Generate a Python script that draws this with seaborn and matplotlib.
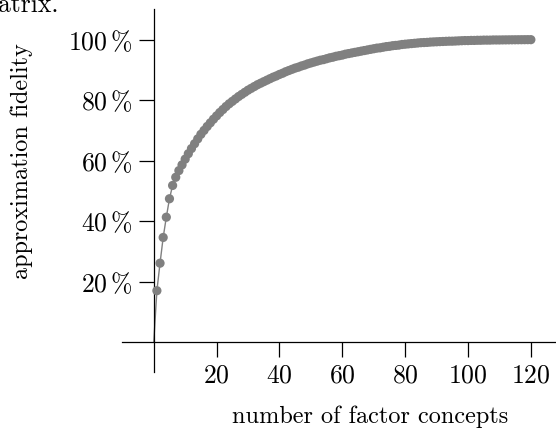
import matplotlib
matplotlib.use("Agg")
import matplotlib.pyplot as plt
import seaborn as sns
import pandas as pd

# number of factor concepts (k) and approximation fidelity (%)
n_concepts = list(range(1, 121))
fidelity = [
    17.0, 26.1, 34.6, 41.3, 47.4, 51.8, 54.5, 56.7, 58.6, 60.5,
    62.3, 64.0, 65.6, 67.2, 68.7, 70.0, 71.3, 72.5, 73.7, 74.8,
    75.9, 76.9, 77.9, 78.8, 79.6, 80.4, 81.2, 81.9, 82.6, 83.3,
    83.9, 84.5, 85.1, 85.6, 86.1, 86.6, 87.1, 87.6, 88.0, 88.5,
    88.9, 89.4, 89.8, 90.2, 90.6, 90.9, 91.3, 91.6, 92.0, 92.3,
    92.6, 92.9, 93.2, 93.4, 93.7, 94.0, 94.2, 94.5, 94.7, 94.9,
    95.2, 95.4, 95.6, 95.8, 96.0, 96.2, 96.4, 96.6, 96.8, 97.0,
    97.2, 97.3, 97.5, 97.7, 97.8, 98.0, 98.1, 98.2, 98.4, 98.5,
    98.6, 98.7, 98.8, 98.9, 99.0, 99.05, 99.1, 99.2, 99.25, 99.3,
    99.35, 99.4, 99.45, 99.5, 99.5, 99.55, 99.6, 99.65, 99.7, 99.7,
    99.75, 99.75, 99.8, 99.8, 99.85, 99.85, 99.85, 99.9, 99.9, 99.9,
    99.92, 99.93, 99.94, 99.95, 99.96, 99.97, 99.98, 99.99, 100.0, 100.0,
]
origin_x = [0]
origin_y = [0.0]

x_ticks = [20, 40, 60, 80, 100, 120]
y_ticks = [20, 40, 60, 80, 100]
y_tick_labels = [r"$%d\,\%%$" % v for v in y_ticks]
x_tick_labels = [r"$%d$" % v for v in x_ticks]

sns.set_theme(style="white")
plt.rcParams["font.family"] = ["cmr10", "DejaVu Serif"]
plt.rcParams["mathtext.fontset"] = "cm"
plt.rcParams["axes.formatter.use_mathtext"] = True

df_pts = pd.DataFrame({"k": n_concepts, "fid": fidelity})
df_line = pd.DataFrame({"k": origin_x + n_concepts, "fid": origin_y + fidelity})

fig = plt.figure(figsize=(5.56, 4.28), dpi=100)
ax = fig.add_axes([0.22, 0.130, 0.78, 0.848])

grey = "#808080"
sns.lineplot(data=df_line, x="k", y="fid", ax=ax, color=grey, linewidth=1.0)
sns.scatterplot(data=df_pts, x="k", y="fid", ax=ax, color=grey, s=44,
                edgecolor="none", zorder=3)

ax.set_xlim(-10, 128)
ax.set_ylim(-10, 110)

ax.spines["left"].set_position(("data", 0))
ax.spines["bottom"].set_position(("data", 0))
ax.spines["top"].set_visible(False)
ax.spines["right"].set_visible(False)
for s in ("left", "bottom"):
    ax.spines[s].set_color("black")
    ax.spines[s].set_linewidth(0.9)

ax.set_xticks(x_ticks)
ax.set_xticklabels(x_tick_labels)
ax.set_yticks(y_ticks)
ax.set_yticklabels(y_tick_labels)
ax.tick_params(axis="both", direction="out", length=10.5, width=0.9,
               color="black", labelsize=18.5, labelcolor="black", pad=5,
               bottom=True, left=True)

ax.set_xlabel("number of factor concepts", fontsize=17.5, color="black")
ax.set_ylabel("approximation fidelity", fontsize=17.5, color="black")
ax.xaxis.set_label_coords(0.571, -0.092)
ax.yaxis.set_label_coords(-0.206, 0.583)

fig.text(-0.004, 0.972, "atrix.", fontsize=18.5, color="black",
         ha="left", va="baseline")

fig.savefig("out.png", dpi=100)
